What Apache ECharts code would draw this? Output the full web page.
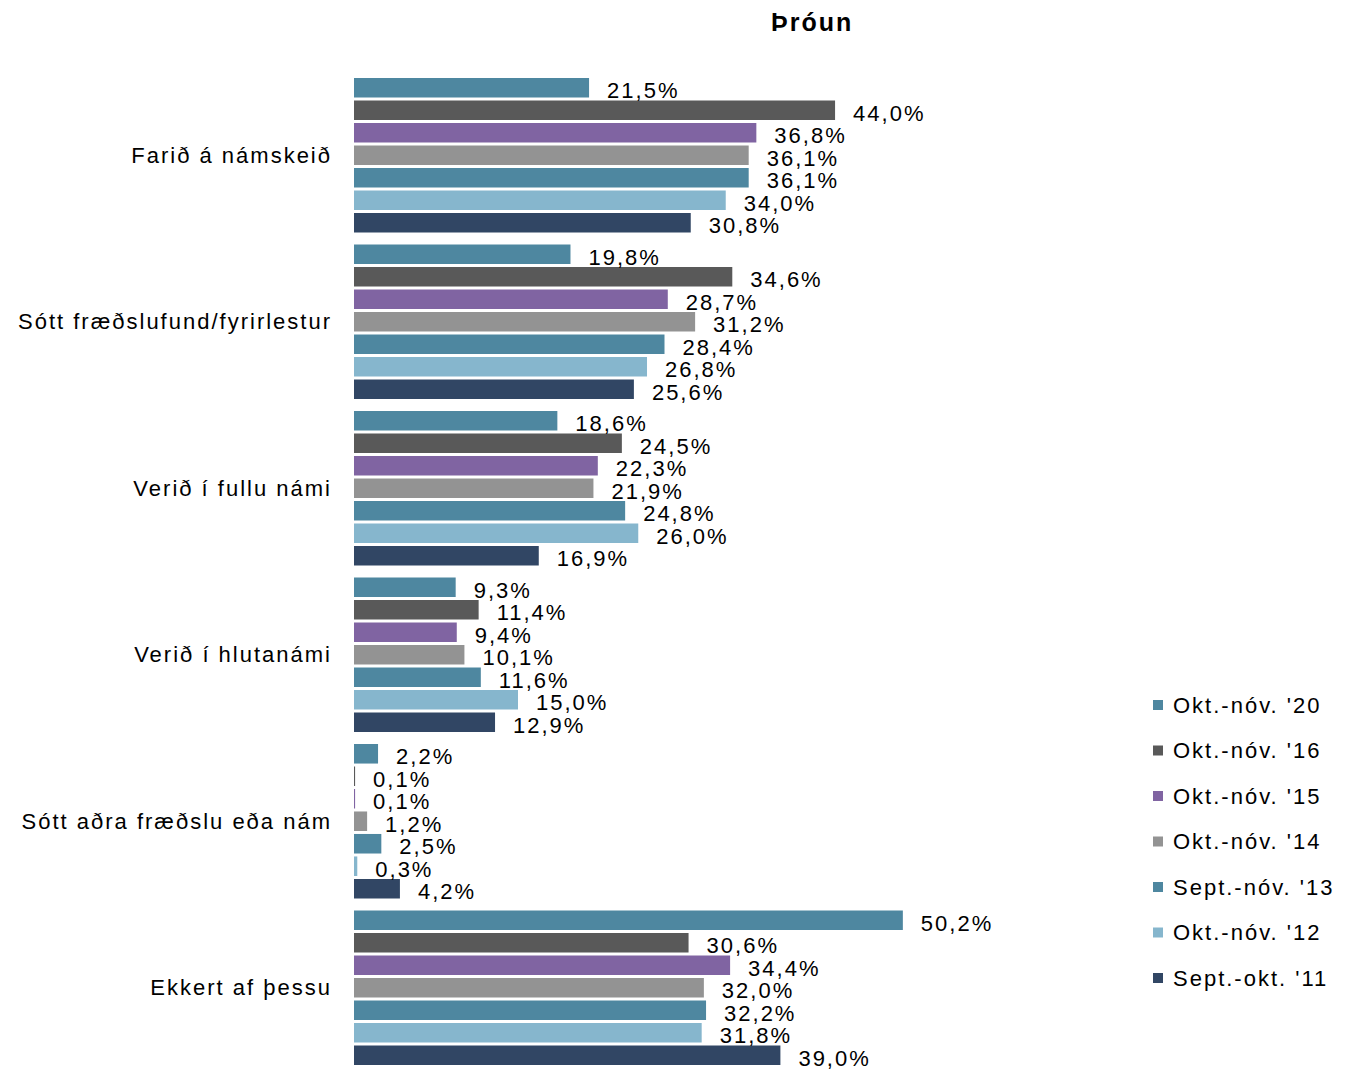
<!DOCTYPE html>
<html>
<head>
<meta charset="utf-8">
<script src="https://cdn.jsdelivr.net/npm/echarts@6/dist/echarts.min.js"></script>
<style>
  html, body { margin: 0; padding: 0; background: #fff; }
  #chart { width: 1358px; height: 1071px; }
  /* the original text is spaced out a little */
  #chart text { letter-spacing: 2px; }
</style>
</head>
<body>
<div id="chart"></div>
<script>
(function () {
    var categories = ['Farið á námskeið', 'Sótt fræðslufund/fyrirlestur', 'Verið í fullu námi',
        'Verið í hlutanámi', 'Sótt aðra fræðslu eða nám', 'Ekkert af þessu'];

    var seriesNames = ["Okt.-nóv. '20", "Okt.-nóv. '16", "Okt.-nóv. '15", "Okt.-nóv. '14",
        "Sept.-nóv. '13", "Okt.-nóv. '12", "Sept.-okt. '11"];

    // gildi í % eftir flokkum
    var okt20 = [21.5, 19.8, 18.6, 9.3, 2.2, 50.2];
    var okt16 = [44.0, 34.6, 24.5, 11.4, 0.1, 30.6];
    var okt15 = [36.8, 28.7, 22.3, 9.4, 0.1, 34.4];
    var okt14 = [36.1, 31.2, 21.9, 10.1, 1.2, 32.0];
    var sept13 = [36.1, 28.4, 24.8, 11.6, 2.5, 32.2];
    var okt12 = [34.0, 26.8, 26.0, 15.0, 0.3, 31.8];
    var sept11 = [30.8, 25.6, 16.9, 12.9, 4.2, 39.0];

    var allValues = [okt20, okt16, okt15, okt14, sept13, okt12, sept11];
    var colors = ['#4e87a0', '#595959', '#8064a2', '#939393', '#4e87a0', '#86b6cd', '#314664'];

    var font = "'Liberation Sans', Arial, sans-serif";

    var myChart = echarts.init(document.getElementById('chart'), null, { renderer: 'svg' });

    var series = seriesNames.map(function (name, i) {
        return {
            name: name,
            type: 'bar',
            data: allValues[i],
            barGap: '15%',
            barCategoryGap: '7.2%',
            itemStyle: { color: colors[i] },
            label: {
                show: true,
                position: 'right',
                distance: 18,
                offset: [0, 3],
                color: '#000',
                fontFamily: font,
                fontSize: 22,
                formatter: function (p) {
                    return p.value.toFixed(1).replace('.', ',') + '%';
                }
            },
            animation: false
        };
    });

    var option = {
        backgroundColor: '#fff',
        color: colors,
        title: {
            text: 'Þróun',
            left: 766,
            top: 4,
            textStyle: { fontFamily: font, fontSize: 25, fontWeight: 'bold', color: '#000' }
        },
        legend: {
            orient: 'vertical',
            left: 1148,
            top: 689,
            itemWidth: 10,
            itemHeight: 10,
            itemGap: 23.5,
            icon: 'rect',
            textStyle: {
                fontFamily: font,
                fontSize: 22,
                lineHeight: 22,
                color: '#000',
                padding: [0, 0, 0, 5]
            }
        },
        grid: {
            left: 354,
            top: 72,
            width: 656,
            height: 999,
            containLabel: false
        },
        xAxis: {
            type: 'value',
            min: 0,
            max: 60,
            show: false
        },
        yAxis: {
            type: 'category',
            inverse: true,
            data: categories,
            axisLine: { show: false },
            axisTick: { show: false },
            axisLabel: {
                margin: 22,
                color: '#000',
                fontFamily: font,
                fontSize: 22
            }
        },
        series: series
    };
    myChart.setOption(option);
})();
</script>
</body>
</html>
